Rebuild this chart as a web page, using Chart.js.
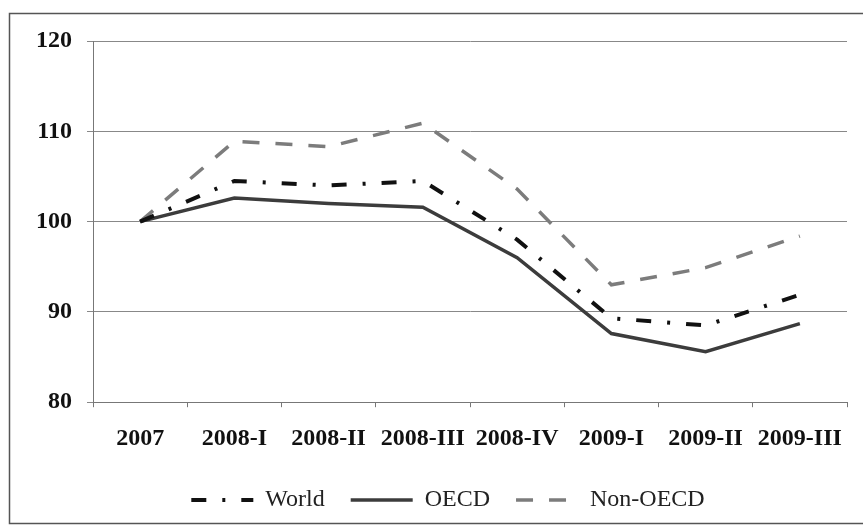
<!DOCTYPE html>
<html>
<head>
<meta charset="utf-8">
<script src="https://cdn.jsdelivr.net/npm/chart.js@4"></script>
<style>
  html, body { margin: 0; padding: 0; background: #fff; }
  canvas { display: block; }
</style>
</head>
<body>
<canvas id="chart" width="863" height="526"></canvas>
<script>
const periods = ['2007', '2008-I', '2008-II', '2008-III', '2008-IV', '2009-I', '2009-II', '2009-III'];
const world = [100, 104.5, 104.0, 104.5, 98.0, 89.3, 88.5, 91.9];
const oecd = [100, 102.6, 102.0, 101.6, 96.0, 87.6, 85.6, 88.7];
const nonOecd = [100, 108.9, 108.3, 110.9, 103.6, 93.0, 94.9, 98.4];
const yTicks = [80, 90, 100, 110, 120];

// outer frame round the whole chart
const framePlugin = {
    id: 'frame',
    beforeDraw(chart) {
        const ctx = chart.ctx;
        ctx.save();
        ctx.fillStyle = '#fff';
        ctx.fillRect(0, 0, chart.width, chart.height);
        ctx.strokeStyle = '#555';
        ctx.lineWidth = 1.5;
        ctx.strokeRect(9.5, 13.5, 900, 510);
        ctx.restore();
    }
};

// legend in the original sits a little right of centre
const legendShift = {
    id: 'legendShift',
    afterLayout(chart) {
        chart.legend.left += 14;
        chart.legend.right += 14;
    }
};

const serif = '"Liberation Serif", "Times New Roman", serif';
const tickFont = { family: serif, size: 24, weight: 'bold' };

new Chart(document.getElementById('chart'), {
    type: 'line',
    data: {
        labels: periods,
        datasets: [{
            label: 'World',
            data: world,
            borderColor: '#111',
            borderWidth: 4,
            borderDash: [15, 16, 3, 16],
            pointRadius: 0,
            tension: 0
        }, {
            label: 'OECD',
            data: oecd,
            borderColor: '#3c3c3c',
            borderWidth: 3.5,
            pointRadius: 0,
            tension: 0
        }, {
            label: 'Non-OECD',
            data: nonOecd,
            borderColor: '#7c7c7c',
            borderWidth: 3.5,
            borderDash: [17, 16],
            pointRadius: 0,
            tension: 0
        }]
    },
    options: {
        responsive: false,
        devicePixelRatio: 1,
        animation: false,
        layout: { padding: { left: 21, right: 16, top: 41, bottom: 4 } },
        plugins: {
            tooltip: { enabled: false },
            legend: {
                position: 'bottom',
                labels: {
                    usePointStyle: true,
                    pointStyle: 'line',
                    pointStyleWidth: 62,
                    boxWidth: 62,
                    padding: 26,
                    color: '#222',
                    font: { family: serif, size: 24 },
                    generateLabels(chart) {
                        const items = Chart.defaults.plugins.legend.labels.generateLabels(chart);
                        items.forEach((item, i) => {
                            const ds = chart.data.datasets[i];
                            item.lineDash = ds.borderDash || [];
                            item.lineWidth = ds.borderWidth;
                            item.strokeStyle = ds.borderColor;
                            item.pointStyle = 'line';
                        });
                        return items;
                    }
                }
            }
        },
        scales: {
            x: {
                offset: true,
                afterFit(scale) {
                    scale.height -= 8;
                },
                grid: {
                    offset: true,
                    drawOnChartArea: false,
                    drawTicks: true,
                    tickLength: 5,
                    color: '#777'
                },
                border: { color: '#777' },
                ticks: { color: '#111', font: tickFont, padding: 17, maxRotation: 0, autoSkip: false }
            },
            y: {
                min: 80,
                max: 120,
                afterBuildTicks(scale) {
                    scale.ticks = yTicks.map(v => ({ value: v }));
                },
                grid: { color: '#888', tickLength: 6 },
                border: { color: '#777' },
                ticks: { color: '#111', font: tickFont, padding: 15 }
            }
        }
    },
    plugins: [framePlugin, legendShift]
});
</script>
</body>
</html>
